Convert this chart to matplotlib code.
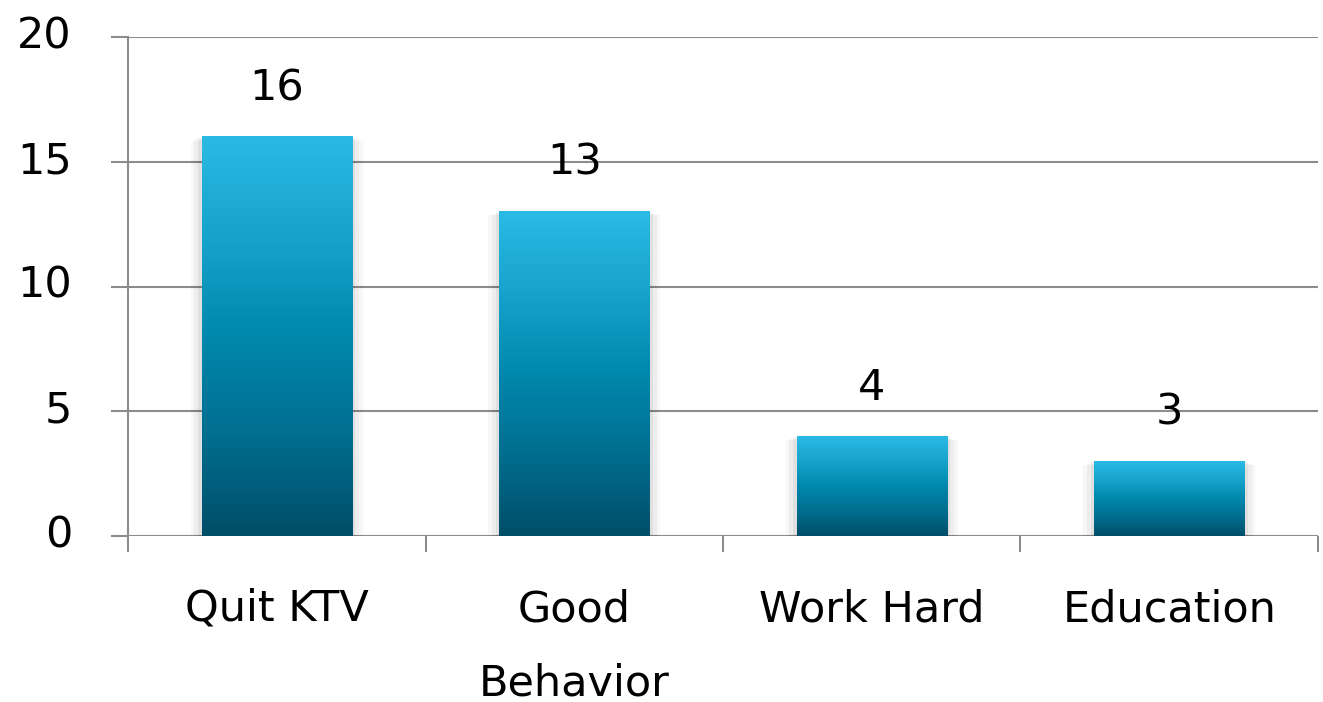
import matplotlib
matplotlib.use("Agg")
import matplotlib.pyplot as plt
import matplotlib.transforms as mtransforms
import numpy as np
from matplotlib.colors import LinearSegmentedColormap
from matplotlib.patches import Rectangle

categories = ["Quit KTV", "Good\nBehavior", "Work Hard", "Education"]
values = [16, 13, 4, 3]
yticks = [0, 5, 10, 15, 20]

W, H, DPI = 1323, 702, 100
PX = 72 / DPI  # points per pixel
fig = plt.figure(figsize=(W / DPI, H / DPI), dpi=DPI)
ax = fig.add_axes([128 / W, 1 - 536 / H, (1318 - 128) / W, (536 - 37) / H])

cmap = LinearSegmentedColormap.from_list(
    "bar", ["#004E68", "#006E8F", "#0088AD", "#16A3CC", "#2ABAE3"])
grad = np.linspace(0, 1, 256).reshape(-1, 1)

FS = 31
n = len(categories)
bw = 0.505
gray = "#8c8c8c"
for y in yticks:
    ax.axhline(y, color=gray, lw=1.5, zorder=1)

for i, v in enumerate(values):
    # soft shadow
    for k, a in enumerate([0.05, 0.04, 0.03]):
        d = 0.012 * (k + 1)
        ax.add_patch(Rectangle((i - bw / 2 - d, 0), bw + 2 * d, v - 0.05 * (k + 1),
                               color="black", alpha=a, lw=0, zorder=2))
    ax.imshow(grad, cmap=cmap, origin="lower", aspect="auto",
              extent=(i - bw / 2, i + bw / 2, 0, v), zorder=3, interpolation="bicubic")
    ax.text(i, v + 1.95, str(v), ha="center", va="center", fontsize=FS, color="black")

ax.set_xlim(-0.5, n - 0.5)
ax.set_ylim(0, 20)
ax.set_yticks(yticks)
ax.set_yticklabels([str(t) for t in yticks], fontsize=FS)
ax.set_xticks(np.arange(-0.5, n, 1.0))
ax.set_xticklabels([])
ax.set_xticks(np.arange(n), minor=True)
ax.set_xticklabels(categories, minor=True, fontsize=FS, linespacing=1.97)
ax.tick_params(axis="x", which="minor", length=0, pad=52 * PX)
ax.tick_params(axis="x", which="major", length=16 * PX, width=1.5, color=gray, direction="out")
ax.tick_params(axis="y", length=17 * PX, width=1.5, color=gray, pad=39 * PX)
for lab in ax.get_xticklabels(minor=True):
    lab.set_verticalalignment("top")
up = mtransforms.ScaledTranslation(0, 5 / DPI, fig.dpi_scale_trans)
for lab in ax.get_yticklabels():
    lab.set_transform(lab.get_transform() + up)
for s in ["top", "right", "bottom"]:
    ax.spines[s].set_visible(False)
ax.spines["left"].set_color(gray)
ax.spines["left"].set_linewidth(1.5)

fig.savefig("out.png", dpi=DPI)
